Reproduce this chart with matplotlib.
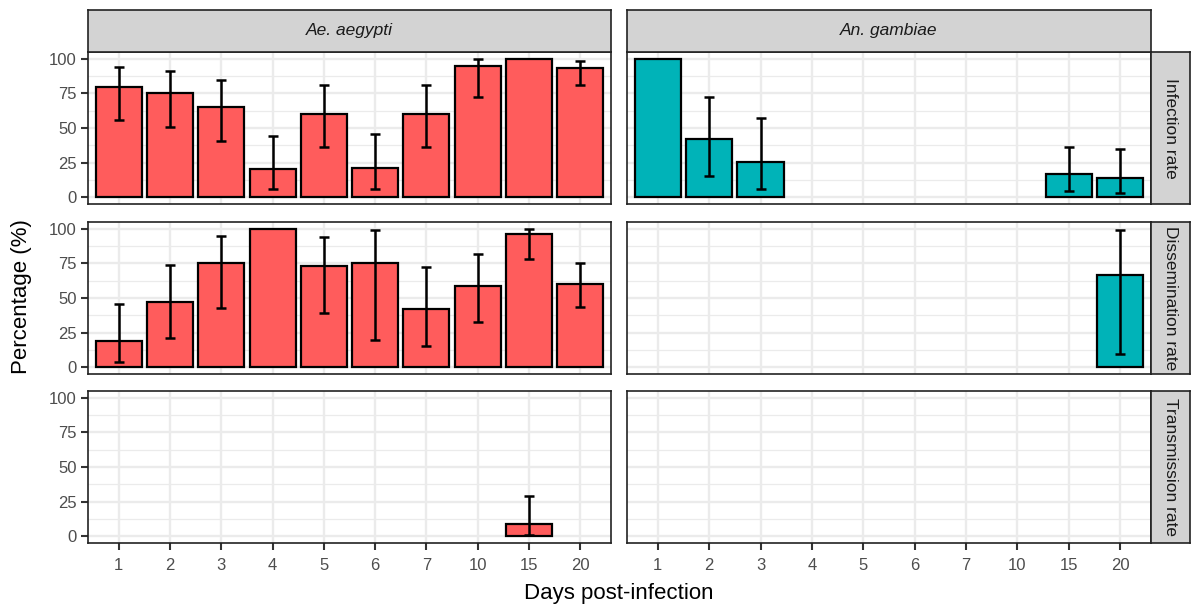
import numpy as np
import matplotlib.pyplot as plt

plt.rcParams['font.family'] = ['Liberation Sans', 'DejaVu Sans']

# Datos
days = ['1', '2', '3', '4', '5', '6', '7', '10', '15', '20']
species = ['Ae. aegypti', 'An. gambiae']
rates = ['Infection rate', 'Dissemination rate', 'Transmission rate']
nan = np.nan

# Ae. aegypti
ae_inf = [80, 75, 65, 20, 60, 21, 60, 94.7, 100, 93.2]
ae_inf_lo = [56, 51, 40.5, 5.6, 36, 6, 36, 72.7, nan, 81]
ae_inf_hi = [94.4, 91.5, 85, 44, 81, 45.7, 81, 99.8, nan, 98.8]

ae_dis = [18.6, 46.9, 75, 100, 73, 75, 42, 59, 96, 60]
ae_dis_lo = [3.6, 21.3, 42.8, nan, 38.9, 19.3, 15, 32.9, 78, 43.2]
ae_dis_hi = [45.7, 73.7, 94.7, nan, 94.2, 99.5, 72.5, 81.9, 100, 75.4]

ae_tra = [nan, nan, nan, nan, nan, nan, nan, nan, 9, nan]
ae_tra_lo = [nan, nan, nan, nan, nan, nan, nan, nan, 0.5, nan]
ae_tra_hi = [nan, nan, nan, nan, nan, nan, nan, nan, 29, nan]

# An. gambiae
an_inf = [100, 41.8, 25.4, nan, nan, nan, nan, nan, 16.4, 13.5]
an_inf_lo = [nan, 15.2, 5.6, nan, nan, nan, nan, nan, 4.3, 3.1]
an_inf_hi = [nan, 72.5, 57.5, nan, nan, nan, nan, nan, 36.5, 35]

an_dis = [nan, nan, nan, nan, nan, nan, nan, nan, nan, 66.9]
an_dis_lo = [nan, nan, nan, nan, nan, nan, nan, nan, nan, 9.2]
an_dis_hi = [nan, nan, nan, nan, nan, nan, nan, nan, nan, 99.3]

an_tra = [nan] * 10
an_tra_lo = [nan] * 10
an_tra_hi = [nan] * 10

data = {
    (0, 0): (ae_inf, ae_inf_lo, ae_inf_hi),
    (1, 0): (ae_dis, ae_dis_lo, ae_dis_hi),
    (2, 0): (ae_tra, ae_tra_lo, ae_tra_hi),
    (0, 1): (an_inf, an_inf_lo, an_inf_hi),
    (1, 1): (an_dis, an_dis_lo, an_dis_hi),
    (2, 1): (an_tra, an_tra_lo, an_tra_hi),
}
colors = ['#FF5C5C', '#00B3B8']

W, H = 1192, 607
fig = plt.figure(figsize=(W / 100, H / 100), dpi=100)

col_x = [(88, 611), (627, 1151)]
row_y = [(52, 204), (222, 374), (391, 543)]


def box(x0, x1, y0, y1):
    return [x0 / W, 1 - y1 / H, (x1 - x0) / W, (y1 - y0) / H]


x = np.arange(len(days))
for (r, c), (vals, lo, hi) in data.items():
    x0, x1 = col_x[c]
    y0, y1 = row_y[r]
    ax = fig.add_axes(box(x0, x1, y0, y1))
    vals = np.array(vals, dtype=float)
    lo = np.array(lo, dtype=float)
    hi = np.array(hi, dtype=float)

    ax.set_xlim(-0.6, len(days) - 0.4)
    ax.set_ylim(-5, 105)
    ax.set_yticks([0, 25, 50, 75, 100])
    ax.set_yticks([12.5, 37.5, 62.5, 87.5], minor=True)
    ax.set_xticks(x)
    ax.grid(True, which='major', color='#EBEBEB', linewidth=1.7, zorder=0)
    ax.grid(True, which='minor', axis='y', color='#EBEBEB', linewidth=0.9, zorder=0)
    ax.set_axisbelow(True)

    hay = ~np.isnan(vals)
    ax.bar(x[hay], vals[hay], width=0.9, color=colors[c], edgecolor='black',
           linewidth=1.6, zorder=2)
    ok = ~np.isnan(lo)
    ax.errorbar(x[ok], vals[ok], yerr=[vals[ok] - lo[ok], hi[ok] - vals[ok]],
                fmt='none', ecolor='black', elinewidth=1.8, capsize=3.6,
                capthick=1.8, zorder=3)

    for s in ax.spines.values():
        s.set_color('#222222')
        s.set_linewidth(1.2)
    ax.tick_params(which='minor', length=0)
    ax.tick_params(which='major', color='#333333', width=1.5, length=5,
                   labelsize=12, labelcolor='#4D4D4D', pad=3)
    ax.tick_params(axis='x', pad=6)
    if c == 0:
        ax.tick_params(axis='y', left=True, labelleft=True)
    else:
        ax.tick_params(axis='y', left=False, labelleft=False)
    if r == 2:
        ax.set_xticklabels(days)
    else:
        ax.tick_params(axis='x', bottom=False, labelbottom=False)

    # tiras de las facetas
    if r == 0:
        sx = fig.add_axes(box(x0, x1, 10, 52))
        sx.set_xticks([])
        sx.set_yticks([])
        sx.set_facecolor('#D3D3D3')
        for s in sx.spines.values():
            s.set_color('#222222')
            s.set_linewidth(1.2)
        sx.text(0.5, 0.5, species[c], style='italic', fontsize=12.5,
                color='#1A1A1A', ha='center', va='center', transform=sx.transAxes)
    if c == 1:
        sy = fig.add_axes(box(1151, 1190, y0, y1))
        sy.set_xticks([])
        sy.set_yticks([])
        sy.set_facecolor('#D3D3D3')
        for s in sy.spines.values():
            s.set_color('#222222')
            s.set_linewidth(1.2)
        sy.text(0.5, 0.5, rates[r], rotation=-90, fontsize=12.5, color='#1A1A1A',
                ha='center', va='center', transform=sy.transAxes)

fig.text(619 / W, 1 - 594 / H, 'Days post-infection', fontsize=16,
         ha='center', va='center')
fig.text(22 / W, 1 - 297 / H, 'Percentage (%)', fontsize=16, rotation=90,
         ha='center', va='center')

fig.savefig('out.png', dpi=100)
